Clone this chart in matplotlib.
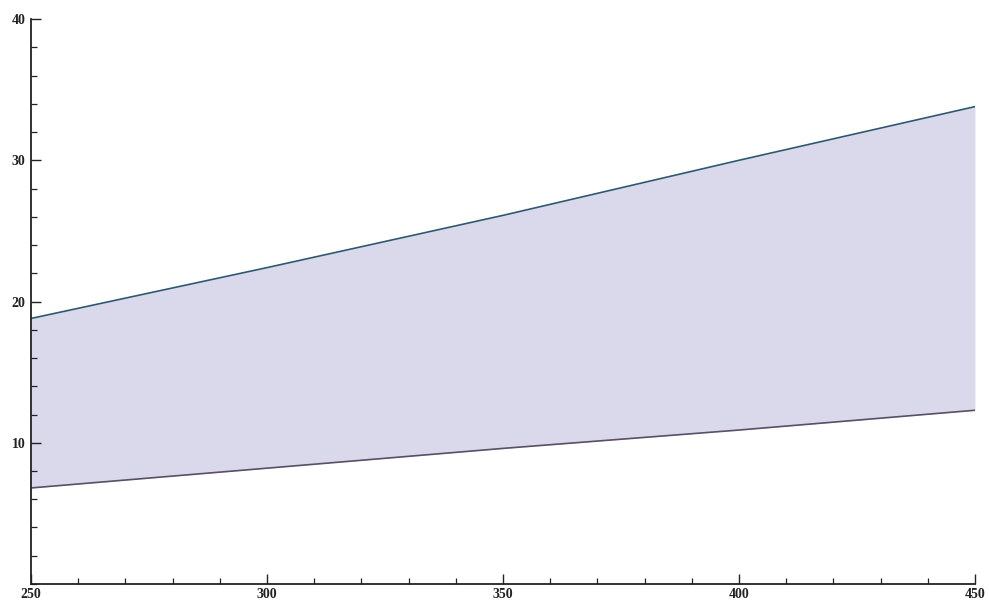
import matplotlib
matplotlib.use("Agg")
from matplotlib import pyplot as plt
from matplotlib.ticker import MultipleLocator

# values
x_values = [250, 300, 350, 400, 450]
upper_values = [18.8, 22.4, 26.1, 30.0, 33.8]
lower_values = [6.8, 8.2, 9.6, 10.9, 12.3]

x_ticks = [250, 300, 350, 400, 450]
y_ticks = [10, 20, 30, 40]

plt.rcParams["font.family"] = ["Liberation Serif", "DejaVu Serif"]
plt.rcParams["font.weight"] = "bold"

fig = plt.figure(figsize=(9.89, 6.01), dpi=100)
ax = fig.add_axes([0.0313, 0.0283, 0.9545, 0.940])

ax.fill_between(x_values, lower_values, upper_values, color="#d9d9eb", linewidth=0)
ax.plot(x_values, upper_values, color="#2d5870", linewidth=1.2)
ax.plot(x_values, lower_values, color="#5a4f66", linewidth=1.2)

ax.set_xlim(250, 450)
ax.set_ylim(0, 40)

ax.spines["top"].set_visible(False)
ax.spines["right"].set_visible(False)
for s in ["left", "bottom"]:
    ax.spines[s].set_linewidth(1.3)
    ax.spines[s].set_color("#222222")

ax.set_xticks(x_ticks)
ax.set_yticks(y_ticks)
ax.xaxis.set_minor_locator(MultipleLocator(10))
ax.yaxis.set_minor_locator(MultipleLocator(2))
ax.tick_params(axis="both", which="major", direction="in", length=7, width=1,
               color="#222222", labelsize=10, pad=3, labelcolor="#222222")
ax.tick_params(axis="both", which="minor", direction="in", length=4, width=0.9,
               color="#222222")
ax.tick_params(axis="y", pad=4)

plt.savefig("out.png", dpi=100)
